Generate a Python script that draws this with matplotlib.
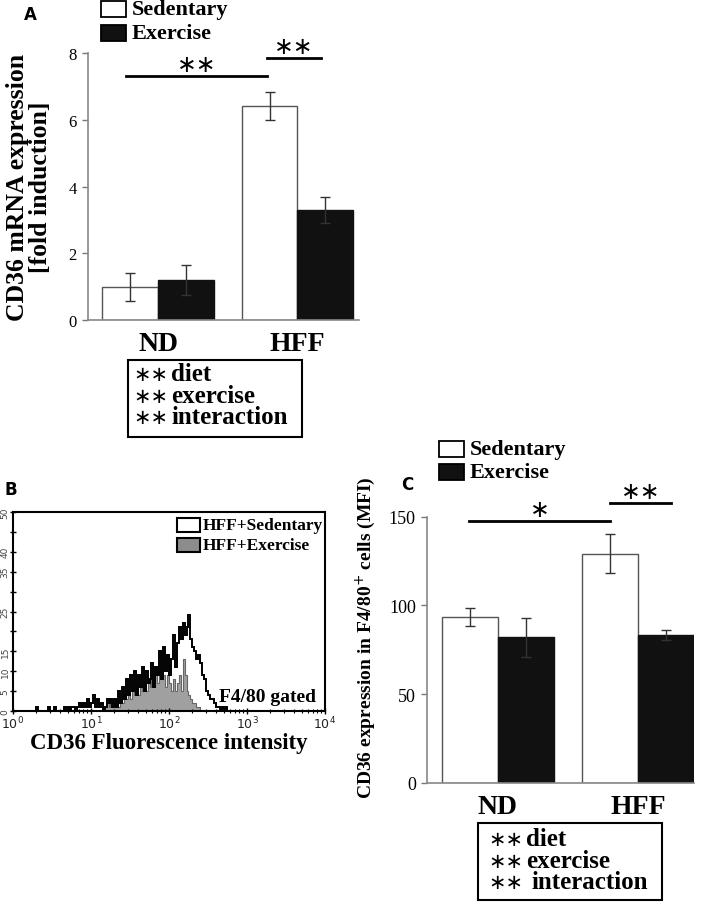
import numpy as np
import matplotlib
matplotlib.use("Agg")
import matplotlib.pyplot as plt
from matplotlib.patches import Rectangle

# ---- dados ----
grupos = ["ND", "HFF"]

# Painel A: CD36 mRNA (fold induction)
a_sed = [1.0, 6.4]
a_sed_err = [0.42, 0.42]
a_ex = [1.2, 3.3]
a_ex_err = [0.45, 0.40]
a_yticks = [0, 2, 4, 6, 8]

# Painel C: CD36 MFI em celulas F4/80+
c_sed = [93.5, 129.0]
c_sed_err = [5.0, 11.0]
c_ex = [82.0, 83.5]
c_ex_err = [11.0, 2.7]
c_yticks = [0, 50, 100, 150]

# Painel B: histogramas (contagens por canal, log10 inicio 0.3, passo 0.025)
hist_log_inicio = 0.3
hist_passo = 0.025
hist_sed = [1, 0, 0, 0, 0, 0, 1, 0, 0, 1,
            0, 0, 0, 0, 1, 0, 1, 0, 1, 1,
            0, 1, 2, 1, 2, 1, 3, 1, 2, 4,
            1, 3, 1, 2, 0, 1, 3, 2, 3, 1,
            3, 1, 5, 2, 6, 3, 8, 4, 9, 5,
            10, 4, 9, 6, 11, 5, 10, 7, 8, 12,
            6, 11, 9, 15, 8, 16, 10, 14, 9, 13,
            19, 11, 17, 21, 18, 22, 19, 21, 24, 18,
            16, 15, 13, 14, 12, 9, 8, 5, 4, 3,
            3, 2, 1, 1, 0, 1, 0, 1, 0, 0]
hist_ex = [0, 0, 0, 0, 0, 0, 0, 0, 0, 0,
           0, 0, 0, 0, 0, 0, 0, 0, 0, 0,
           0, 0, 0, 0, 0, 0, 0, 0, 0, 0,
           0, 0, 0, 0, 1, 1, 2, 1, 2, 1,
           2, 3, 1, 3, 2, 4, 3, 5, 3, 5,
           4, 6, 4, 6, 5, 7, 5, 7, 6, 8,
           6, 9, 7, 9, 8, 9, 6, 9, 7, 5,
           8, 5, 7, 9, 5, 13, 9, 5, 4, 3,
           2, 2, 1, 1, 0, 0, 0, 0, 0, 0,
           0, 0, 0, 0, 0, 0, 0, 0, 0, 0]
b_yticks = [0, 5, 10, 15, 20, 25, 30, 35, 40, 45, 50]
b_ylabels = ["0", "5", "10", "15", "", "25", "", "35", "40", "", "50"]

SERIF = ["Liberation Serif", "DejaVu Serif"]
STAR = ["DejaVu Sans"]
W, H = 709, 903

fig = plt.figure(figsize=(W / 100, H / 100), dpi=100)

def fx(px):
    return px / W

def fy(py):
    return 1 - py / H

def eixo(px_left, px_right, py_top, py_bottom):
    return fig.add_axes([fx(px_left), fy(py_bottom), (px_right - px_left) / W, (py_bottom - py_top) / H])

def barras(ax, sed, sed_err, ex, ex_err, xlim, ylim, yticks, tick_fs):
    x = np.arange(len(grupos))
    w = 0.4
    kw = dict(ecolor="#333333", capsize=3.5, error_kw=dict(elinewidth=1.0, capthick=1.0))
    ax.bar(x - w / 2, sed, w, yerr=sed_err, color="white", edgecolor="#555555", linewidth=1.0, **kw)
    ax.bar(x + w / 2, ex, w, yerr=ex_err, color="#111111", edgecolor="#111111", linewidth=1.0, **kw)
    ax.set_xlim(*xlim)
    ax.set_ylim(*ylim)
    ax.set_yticks(yticks)
    ax.set_yticklabels([str(t) for t in yticks], family=SERIF, fontsize=tick_fs)
    ax.set_xticks(x)
    ax.set_xticklabels(grupos, family=SERIF, fontsize=20, fontweight="bold")
    ax.tick_params(axis="x", length=0, pad=8)
    ax.tick_params(axis="y", length=4, width=1, color="#777777", pad=4)
    for s in ["top", "right"]:
        ax.spines[s].set_visible(False)
    for s in ["left", "bottom"]:
        ax.spines[s].set_color("#888888")
        ax.spines[s].set_linewidth(1.2)
    ax.spines["left"].set_bounds(yticks[0], yticks[-1])

def sig(ax, x0, x1, y, texto, fs):
    ax.plot([x0, x1], [y, y], color="black", lw=2, clip_on=False)
    ax.text((x0 + x1) / 2, y, texto, ha="center", va="bottom", fontsize=fs,
            family=STAR, clip_on=False)

def legenda(px_box, py1, py2, fs):
    for py, cor in [(py1, "white"), (py2, "#111111")]:
        fig.patches.append(Rectangle((fx(px_box), fy(py + 8)), 25 / W, 16 / H, transform=fig.transFigure,
                                     facecolor=cor, edgecolor="black", linewidth=1.3))
    fig.text(fx(px_box + 31), fy(py1), "Sedentary", family=SERIF, fontweight="bold", fontsize=fs, va="center")
    fig.text(fx(px_box + 31), fy(py2), "Exercise", family=SERIF, fontweight="bold", fontsize=fs, va="center")

def caixa(px0, px1, py0, py1, linhas, py_linhas, px_texto, desloc):
    fig.patches.append(Rectangle((fx(px0), fy(py1)), (px1 - px0) / W, (py1 - py0) / H, transform=fig.transFigure,
                                 facecolor="white", edgecolor="black", linewidth=1.5))
    for (estrela, palavra), py, d in zip(linhas, py_linhas, desloc):
        fig.text(fx(px_texto), fy(py), estrela, family=STAR, fontsize=15, va="center")
        fig.text(fx(px_texto + d), fy(py), palavra, family=SERIF, fontweight="bold", fontsize=18, va="center")

# ---- Painel A ----
axA = eixo(88, 359, 54, 321)
barras(axA, a_sed, a_sed_err, a_ex, a_ex_err, (-0.502, 1.441), (0, 8), a_yticks, 12)
sig(axA, -0.23, 0.78, 7.31, "∗∗", 17)
sig(axA, 0.78, 1.17, 7.84, "∗∗", 17)
axA.set_ylabel("CD36 mRNA expression\n[fold induction]", family=SERIF, fontweight="bold",
               fontsize=18.5, linespacing=1.0, labelpad=12)
legenda(101, 10, 34, 16)
caixa(128, 302, 361, 438, [("∗∗", "diet"), ("∗∗", "exercise"), ("∗∗", "interaction")],
      [375, 397, 418], 133, [38, 38, 38])
fig.text(fx(30), fy(15), "A", fontsize=12, fontweight="bold", ha="center", va="center", family=["DejaVu Sans"])

# ---- Painel B ----
axB = eixo(13, 325, 513, 712)
bordas = 10 ** (hist_log_inicio + hist_passo * np.arange(len(hist_sed) + 1))
axB.stairs(hist_ex, bordas, fill=True, color="#a0a0a0")
axB.stairs(hist_ex, bordas, color="#666666", lw=0.8)
axB.stairs(hist_sed, bordas, color="black", lw=1.4)
axB.plot([1, 1e4], [0, 0], color="black", lw=2)
axB.set_xscale("log")
axB.set_xlim(1, 1e4)
axB.set_ylim(0, 50)
axB.set_xticks([1, 10, 100, 1000, 10000])
axB.set_xticklabels([r"$10^{0}$", r"$10^{1}$", r"$10^{2}$", r"$10^{3}$", r"$10^{4}$"], fontsize=9, color="#222222")
axB.set_yticks(b_yticks)
axB.set_yticklabels(b_ylabels, rotation=90, fontsize=6.5, color="#444444", va="center")
axB.tick_params(axis="both", which="major", direction="inout", length=4, width=1, pad=1)
axB.tick_params(axis="x", which="minor", direction="inout", length=3, width=0.8)
axB.tick_params(axis="y", pad=0.5)
for s in axB.spines.values():
    s.set_linewidth(1.5)
axB.set_xlabel("CD36 Fluorescence intensity", family=SERIF, fontweight="bold", fontsize=16.5, labelpad=0)
axB.text(0.97, 0.03, "F4/80 gated", transform=axB.transAxes, ha="right", va="bottom",
         family=SERIF, fontweight="bold", fontsize=14)
for py, cor, nome in [(526, "white", "HFF+Sedentary"), (546, "#8c8c8c", "HFF+Exercise")]:
    fig.patches.append(Rectangle((fx(177), fy(py + 7)), 23 / W, 14 / H, transform=fig.transFigure,
                                 facecolor=cor, edgecolor="black", linewidth=1.5))
    fig.text(fx(203), fy(py), nome, family=SERIF, fontweight="bold", fontsize=12.5, va="center")
fig.text(fx(11), fy(490), "B", fontsize=12, fontweight="bold", ha="center", va="center", family=["DejaVu Sans"])

# ---- Painel C ----
axC = eixo(427, 694, 491, 784)
barras(axC, c_sed, c_sed_err, c_ex, c_ex_err, (-0.507, 1.40), (0, 165), c_yticks, 13)
sig(axC, -0.207, 0.80, 147.7, "∗", 17)
sig(axC, 0.80, 1.236, 157.9, "∗∗", 17)
axC.set_ylabel("CD36 expression in F4/80$^{+}$ cells (MFI)", family=SERIF, fontweight="bold",
               fontsize=14, labelpad=8)
legenda(439, 450, 473, 16)
caixa(478, 662, 824, 901, [("∗∗", "diet"), ("∗∗", "exercise"), ("∗∗", "interaction")],
      [840, 862, 883], 488, [38, 38, 43])
fig.text(fx(407), fy(485), "C", fontsize=12, fontweight="bold", ha="center", va="center", family=["DejaVu Sans"])

fig.savefig("out.png", dpi=100, facecolor="white")
